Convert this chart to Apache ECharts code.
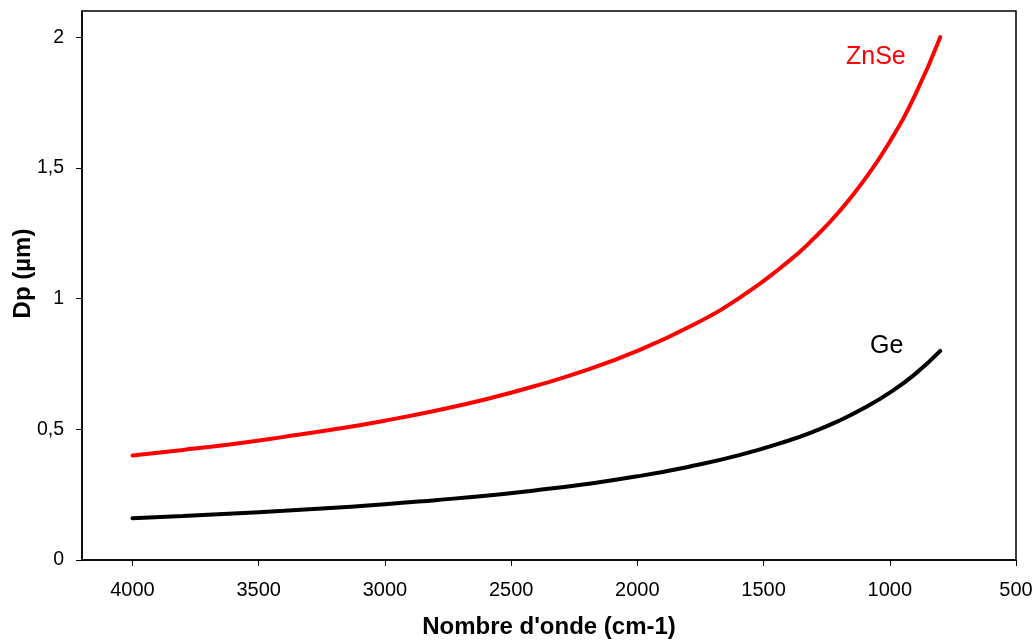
<!DOCTYPE html>
<html><head><meta charset="utf-8">
<script src="https://cdn.jsdelivr.net/npm/echarts@6/dist/echarts.min.js"></script>
<style>html,body{margin:0;padding:0;background:#fff}#c{width:1036px;height:641px}</style>
</head><body><div id="c"></div>
<script>
const wavenumbers = [4000,3800,3600,3400,3200,3000,2800,2600,2400,2200,2000,1800,1600,1400,1300,1200,1100,1000,900,800];
const znse = [0.400,0.421,0.444,0.471,0.500,0.533,0.571,0.615,0.667,0.727,0.800,0.889,1.000,1.143,1.231,1.333,1.455,1.600,1.778,2.000];
const ge   = [0.160,0.168,0.178,0.188,0.200,0.213,0.229,0.246,0.267,0.291,0.320,0.356,0.400,0.457,0.492,0.533,0.582,0.640,0.711,0.800];
const xTicks = [500,1000,1500,2000,2500,3000,3500,4000];
const yTicks = [0,0.5,1,1.5,2];
const seriesNames = ['ZnSe','Ge'];
const yTitle = 'Dp (µm)';
const xTitle = "Nombre d'onde (cm-1)";

const font = '"Liberation Sans", Arial, sans-serif';
const chart = echarts.init(document.getElementById('c'));
const pair = (vals) => wavenumbers.map((w,i)=>[w,vals[i]]);
chart.setOption({
  animation:false,
  grid:{left:82,right:20,top:11,bottom:81,containLabel:false,outerBoundsMode:'none',show:true,borderColor:'#000',borderWidth:1.5,backgroundColor:'#fff'},
  xAxis:{type:'value',inverse:true,min:500,max:4200,
    name:xTitle,nameLocation:'middle',nameGap:55,
    nameTextStyle:{fontFamily:font,fontWeight:'bold',fontSize:24,color:'#000'},
    axisLine:{show:true,lineStyle:{color:'#000',width:1.5}},
    axisTick:{show:true,length:6,customValues:xTicks,lineStyle:{color:'#000'}},
    axisLabel:{customValues:xTicks,fontFamily:font,fontSize:20,color:'#000',margin:20,
      formatter:v=>String(v)},
    splitLine:{show:false}},
  yAxis:{type:'value',min:0,max:2.1,
    axisLine:{show:true,lineStyle:{color:'#000',width:1.5}},
    axisTick:{show:true,length:6,customValues:yTicks,lineStyle:{color:'#000'}},
    axisLabel:{customValues:yTicks,fontFamily:font,fontSize:19.5,color:'#000',margin:18,
      formatter:v=>String(v).replace('.',',')},
    splitLine:{show:false}},
  series:[
    {name:seriesNames[0],type:'line',data:pair(znse),smooth:true,showSymbol:false,
      lineStyle:{color:'#ff0000',width:4,cap:'round'}},
    {name:seriesNames[1],type:'line',data:pair(ge),smooth:true,showSymbol:false,
      lineStyle:{color:'#000',width:4,cap:'round'}}
  ],
  graphic:[
    {type:'text',x:846,y:57.5,style:{text:seriesNames[0],fill:'#ff0000',font:'25px '+font,verticalAlign:'middle'}},
    {type:'text',x:870,y:346.5,style:{text:seriesNames[1],fill:'#000',font:'25px '+font,verticalAlign:'middle'}},
    {type:'text',x:23,y:273.5,rotation:Math.PI/2,style:{text:yTitle,fill:'#000',font:'bold 24px '+font,align:'center',verticalAlign:'middle'}}
  ]
});
</script></body></html>
